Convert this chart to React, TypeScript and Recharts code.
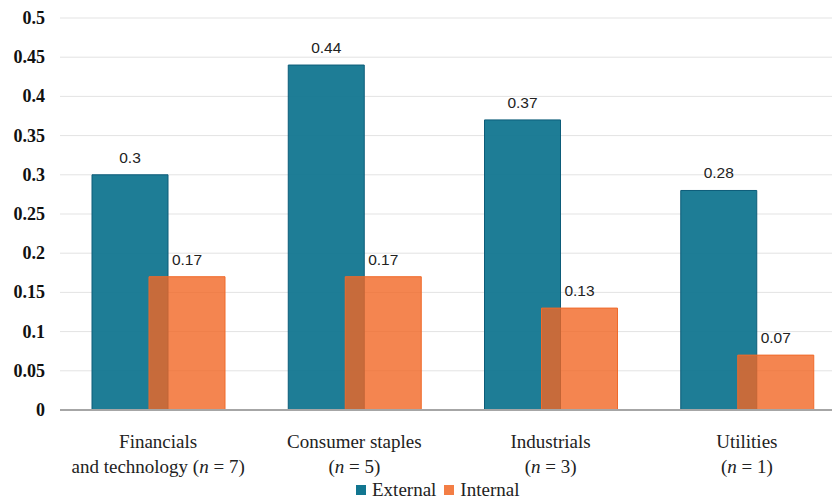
import { BarChart, Bar, XAxis, YAxis, CartesianGrid, LabelList } from 'recharts';

const categories = ['Financials', 'Consumer staples', 'Industrials', 'Utilities'];
const subLines = ['and technology ', '', '', ''];
const sampleSizes = [7, 5, 3, 1];
const external = [0.3, 0.44, 0.37, 0.28];
const internal = [0.17, 0.17, 0.13, 0.07];
const yTicks = [0, 0.05, 0.1, 0.15, 0.2, 0.25, 0.3, 0.35, 0.4, 0.45, 0.5];

const EXT = '#127690';
const INT = '#F16724';
const SERIF = "'Liberation Serif', 'DejaVu Serif', serif";
const SANS = "'Liberation Sans', Arial, sans-serif";

const data = categories.map((name, i) => ({
  name,
  sub: subLines[i],
  n: sampleSizes[i],
  external: external[i],
  internal: internal[i],
}));

const CategoryTick = (props: any) => {
  const { x, y, index } = props;
  const d = data[index];
  if (!d) return null;
  return (
    <text x={x} textAnchor="middle" style={{ fontFamily: SERIF, fontSize: 19 }} fill="#222">
      <tspan x={x} y={y + 38}>{d.name}</tspan>
      <tspan x={x} y={y + 63}>
        {d.sub}(<tspan fontStyle="italic">n</tspan> = {d.n})
      </tspan>
    </text>
  );
};

const ValueTick = (props: any) => {
  const { x, y, payload } = props;
  return (
    <text x={x} y={y} dy={6} textAnchor="end" style={{ fontFamily: SERIF, fontSize: 18, fontWeight: 'bold' }} fill="#111">
      {payload.value}
    </text>
  );
};

const LegendBox = () => (
  <div
    style={{
      position: 'absolute',
      left: 356,
      top: 480,
      display: 'flex',
      alignItems: 'center',
      fontFamily: SERIF,
      fontSize: 19,
      color: '#222',
      lineHeight: '20px',
    }}
  >
    <span style={{ width: 10, height: 10, background: EXT, display: 'inline-block', marginRight: 6 }} />
    <span style={{ marginRight: 8 }}>External</span>
    <span style={{ width: 10, height: 10, background: INT, opacity: 0.85, display: 'inline-block', marginRight: 6 }} />
    <span>Internal</span>
  </div>
);

export default function App() {
  return (
    <div style={{ position: 'absolute', left: 0, top: 0, width: 832, height: 499, overflow: 'hidden', background: '#fff' }}>
      <BarChart
        width={850}
        height={499}
        data={data}
        margin={{ top: 18, right: 5, left: 0, bottom: 34 }}
        barSize={76}
        barGap={-19}
      >
        <CartesianGrid vertical={false} stroke="#E3E3E3" />
        <XAxis
          dataKey="name"
          axisLine={{ stroke: '#A6A6A6', strokeWidth: 2 }}
          tickLine={false}
          tickSize={0}
          tickMargin={0}
          height={55}
          tick={<CategoryTick />}
          interval={0}
        />
        <YAxis
          width={60}
          domain={[0, 0.5]}
          ticks={yTicks}
          axisLine={false}
          tickLine={false}
          tickSize={6}
          tickMargin={9}
          tick={<ValueTick />}
        />
        <Bar dataKey="external" fill={EXT} fillOpacity={0.95} stroke="#0C5C79" strokeWidth={1} isAnimationActive={false}>
          <LabelList dataKey="external" position="top" offset={12} style={{ fontFamily: SANS, fontSize: 15.5, fill: '#222' }} />
        </Bar>
        <Bar dataKey="internal" fill={INT} fillOpacity={0.8} stroke="#F06A2A" strokeWidth={1} isAnimationActive={false}>
          <LabelList dataKey="internal" position="top" offset={12} style={{ fontFamily: SANS, fontSize: 15.5, fill: '#222' }} />
        </Bar>
      </BarChart>
      <LegendBox />
    </div>
  );
}
